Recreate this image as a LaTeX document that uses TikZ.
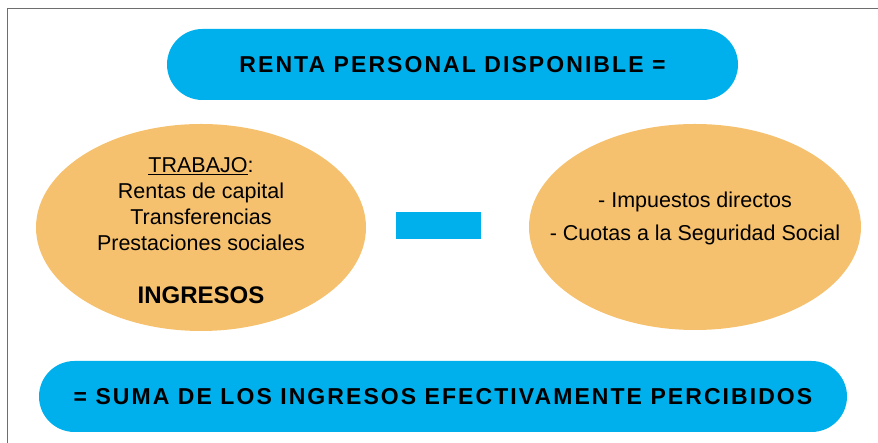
\documentclass[tikz,border=0pt]{standalone}
\usepackage{fontspec}
\setmainfont{Liberation Sans}
\newfontfamily\pillfont{Liberation Sans}[LetterSpace=9]
\usepackage{tikz}
\usetikzlibrary{shapes.geometric, shapes.misc}
\definecolor{pillblue}{RGB}{0,176,236}
\definecolor{ovalorange}{RGB}{245,193,110}
\definecolor{framegray}{RGB}{110,110,110}
\tikzstyle{pill}  = [rounded rectangle, fill=pillblue, inner sep=0pt, minimum height=71pt,
                     font=\pillfont\bfseries\fontsize{23}{27}\selectfont]
\tikzstyle{oval}  = [ellipse, fill=ovalorange, inner sep=0pt]

\begin{document}
\begin{tikzpicture}[
    x=1pt, y=1pt,
    itemtext/.style={anchor=base, inner sep=0pt, font=\fontsize{21.5}{26}\selectfont},
  ]
  \useasboundingbox (0,0) rectangle (878,443);
  \draw[framegray, line width=1pt] (7,0) |- (878,434);

  % top and bottom bars
  \node[pill, minimum width=571pt] (renta) at (452.5,378.5) {RENTA PERSONAL DISPONIBLE =};
  \node[pill, minimum width=808pt] (suma) at (443,46.5) {= SUMA DE LOS INGRESOS EFECTIVAMENTE PERCIBIDOS};

  % the two sides and the minus sign
  \node[oval, minimum width=330pt, minimum height=207pt] (ingresos) at (201,215.5) {};
  \node[oval, minimum width=332pt, minimum height=206pt] (deducciones) at (695,216) {};
  \node[rectangle, fill=pillblue, minimum width=85pt, minimum height=27pt, inner sep=0pt] (menos) at (438.5,217.5) {};

  \node[itemtext] (trabajo) at (201,270.3) {\underline{TRABAJO}:};
  \node[itemtext] (capital) at (201,244.7) {Rentas de capital};
  \node[itemtext] (transf)  at (201,218.7) {Transferencias};
  \node[itemtext] (prest)   at (201,192.3) {Prestaciones sociales};
  \node[itemtext, font=\bfseries\fontsize{24}{28}\selectfont] (ingtitle) at (201,139.7) {INGRESOS};

  \node[itemtext] (impuestos) at (695,235.7) {- Impuestos directos};
  \node[itemtext] (cuotas)    at (695,202.3) {- Cuotas a la Seguridad Social};
\end{tikzpicture}
\end{document}
